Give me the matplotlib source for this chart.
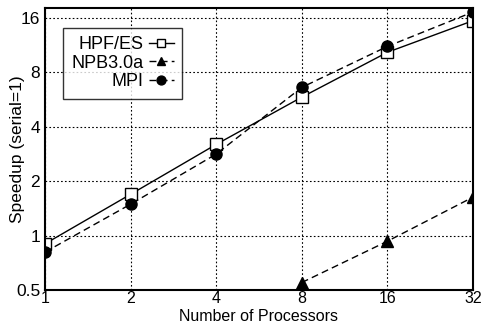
import matplotlib
matplotlib.use("Agg")
import matplotlib.pyplot as plt
from matplotlib.ticker import FixedLocator, FixedFormatter, NullLocator

plt.rcParams['font.family'] = ['Liberation Sans', 'DejaVu Sans']

procs = [1, 2, 4, 8, 16, 32]
hpf = [0.90, 1.69, 3.19, 5.82, 10.3, 15.4]
npb_procs = [8, 16, 32]
npb = [0.55, 0.93, 1.63]
mpi = [0.81, 1.49, 2.82, 6.59, 11.1, 17.2]
yticks = [0.5, 1, 2, 4, 8, 16]
ytick_labels = ['0.5', '1', '2', '4', '8', '16']
xtick_labels = ['1', '2', '4', '8', '16', '32']

fig = plt.figure(figsize=(4.85, 3.27), dpi=100)
ax = fig.add_axes([45/485, 37/327, 428/485, 282/327])

ax.plot(procs, hpf, '-', color='black', lw=1.0, marker='s', ms=8,
        mfc='white', mec='black', mew=1.0, label='HPF/ES')
ax.plot(npb_procs, npb, '--', color='black', lw=1.0, marker='^', ms=8,
        mfc='black', mec='black', label='NPB3.0a', dashes=(5, 3))
ax.plot(procs, mpi, '--', color='black', lw=1.0, marker='o', ms=8,
        mfc='black', mec='black', label='MPI', dashes=(5, 3))

ax.set_xscale('log', base=2)
ax.set_yscale('log', base=2)
ax.set_xlim(1, 32)
ax.set_ylim(0.5, 18.1)
ax.xaxis.set_major_locator(FixedLocator(procs))
ax.xaxis.set_major_formatter(FixedFormatter(xtick_labels))
ax.xaxis.set_minor_locator(NullLocator())
ax.yaxis.set_major_locator(FixedLocator(yticks))
ax.yaxis.set_major_formatter(FixedFormatter(ytick_labels))
ax.yaxis.set_minor_locator(NullLocator())
ax.tick_params(axis='x', direction='in', length=0, labelsize=11.5, pad=0.5)
ax.tick_params(axis='y', direction='in', length=0, labelsize=12.5, pad=3.5)
ax.grid(True, color='black', linestyle=(0, (1.5, 2)), lw=0.8)
for s in ax.spines.values():
    s.set_linewidth(1.5)

ax.set_xlabel('Number of Processors', fontsize=11.5)
ax.xaxis.set_label_coords(0.5, -0.066)
ax.set_ylabel('Speedup (serial=1)', fontsize=12.5)
ax.yaxis.set_label_coords(-0.047, 0.5)

leg = ax.legend(loc='upper left', bbox_to_anchor=(0.042, 0.93), markerfirst=False,
                fontsize=13, frameon=True, fancybox=False, edgecolor='black',
                handlelength=1.4, handletextpad=0.3, borderpad=0.45,
                labelspacing=0.1, markerscale=0.8, borderaxespad=0)
leg.get_frame().set_linewidth(1.0)
for t in leg.get_texts():
    t.set_ha('right')

fig.savefig('out.png', dpi=100)
